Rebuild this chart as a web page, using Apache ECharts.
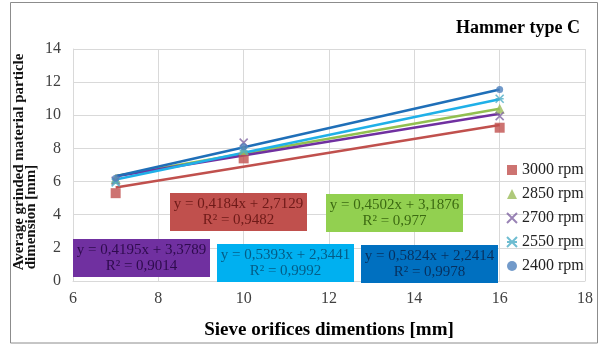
<!DOCTYPE html>
<html><head><meta charset="utf-8">
<script src="https://cdn.jsdelivr.net/npm/echarts@6/dist/echarts.min.js"></script>
<style>html,body{margin:0;padding:0;background:#fff}#c{width:600px;height:345px}</style>
</head><body><div id="c"></div>
<script>
const xValues = [7, 10, 16];
const xTrend = [7, 16];
const seriesNames = ['3000 rpm', '2850 rpm', '2700 rpm', '2550 rpm', '2400 rpm'];
const pts3000 = [5.3, 7.4, 9.25];
const pts2850 = [6.15, 7.9, 10.4];
const pts2700 = [6.05, 8.35, 9.95];
const pts2550 = [5.95, 7.85, 11.0];
const pts2400 = [6.2, 8.1, 11.55];
const trend3000 = [5.64, 9.41];
const trend2850 = [6.34, 10.39];
const trend2700 = [6.32, 10.09];
const trend2550 = [6.12, 10.97];
const trend2400 = [6.32, 11.56];
const equations = [
  'y = 0,4184x + 2,7129\nR² = 0,9482',
  'y = 0,4502x + 3,1876\nR² = 0,977',
  'y = 0,4195x + 3,3789\nR² = 0,9014',
  'y = 0,5393x + 2,3441\nR² = 0,9992',
  'y = 0,5824x + 2,2414\nR² = 0,9978'
];
const xTicks = [6, 8, 10, 12, 14, 16, 18];
const yTicks = [0, 2, 4, 6, 8, 10, 12, 14];

const pts = [pts3000, pts2850, pts2700, pts2550, pts2400];
const trends = [trend3000, trend2850, trend2700, trend2550, trend2400];
const markerColors = ['#c0504d', '#9bbb59', '#8064a2', '#4bacc6', '#4f81bd'];
const lineColors = ['#c0504d', '#92c050', '#7030a0', '#1fb0e8', '#1f6fb8'];
const boxColors = ['#c0504d', '#92d050', '#7030a0', '#00b0f0', '#0070c0'];
const textColors = ['#6e1a18', '#3c6a12', '#2e0b4d', '#045c86', '#07305e'];
const boxPos = [[170, 193], [326, 194], [73, 239], [217, 244], [361, 245]];
const symbols = [
  'rect',
  'triangle',
  'path://M0,0L10,10M10,0L0,10',
  'path://M0,0L10,10M10,0L0,10M0,5L10,5',
  'circle'
];
const symbolSizes = [10, 10, 8, 8, 7];
const serif = "'Liberation Serif','Times New Roman',serif";

const series = [];
for (let i = 0; i < 5; i++) {
  series.push({
    name: 'trend' + i, type: 'line', silent: true, symbol: 'none',
    data: xTrend.map((x, j) => [x, trends[i][j]]),
    lineStyle: { color: lineColors[i], width: 2.5 }, z: 2
  });
}
for (let i = 0; i < 5; i++) {
  const stroke = i === 2 || i === 3;
  series.push({
    name: seriesNames[i], type: 'scatter', symbol: symbols[i], symbolSize: symbolSizes[i],
    data: xValues.map((x, j) => [x, pts[i][j]]),
    itemStyle: stroke ? { color: 'rgba(0,0,0,0)', borderColor: markerColors[i], borderWidth: 1.6 }
                      : { color: markerColors[i] },
    z: 3
  });
}

const graphics = [
  { type: 'rect', shape: { x: 10.5, y: 2.5, width: 587, height: 340.5 }, style: { fill: 'none', stroke: '#8c8c8c', lineWidth: 1 }, silent: true },
  { type: 'text', x: 19, y: 162, rotation: Math.PI / 2,
    style: { text: 'Average grinded material particle', font: 'bold 15px ' + serif, fill: '#111', align: 'center', verticalAlign: 'middle' } },
  { type: 'text', x: 31, y: 217, rotation: Math.PI / 2,
    style: { text: 'dimension [mm]', font: 'bold 15px ' + serif, fill: '#111', align: 'center', verticalAlign: 'middle' } }
];
for (let i = 0; i < 5; i++) {
  graphics.push({
    type: 'rect', shape: { x: boxPos[i][0], y: boxPos[i][1], width: 137, height: 38 },
    style: { fill: boxColors[i] }, z: 10
  });
  graphics.push({
    type: 'text', x: boxPos[i][0] + 68.5, y: boxPos[i][1] + 19,
    style: { text: equations[i], font: '15px ' + serif, fill: textColors[i], align: 'center', verticalAlign: 'middle', lineHeight: 16 }, z: 11
  });
}

const chart = echarts.init(document.getElementById('c'));
chart.setOption({
  animation: false,
  backgroundColor: '#fff',
  textStyle: { fontFamily: serif },
  title: { text: 'Hammer type C', right: 15, top: 14, textStyle: { fontFamily: serif, fontWeight: 'bold', fontSize: 18, color: '#000' } },
  grid: { left: 73, right: 15, top: 49, bottom: 62, containLabel: false },
  legend: {
    data: seriesNames, orient: 'vertical', left: 506, top: 162, padding: 0, itemWidth: 10, itemHeight: 10, itemGap: 8,
    textStyle: { fontFamily: serif, fontWeight: 'normal', fontSize: 16, color: '#222', lineHeight: 16 },
    formatter: function (name) { return '{s|' + name + '}'; }
  },
  xAxis: {
    type: 'value', min: xTicks[0], max: xTicks[xTicks.length - 1], interval: 2,
    name: 'Sieve orifices dimentions [mm]', nameLocation: 'middle', nameGap: 40,
    nameTextStyle: { fontFamily: serif, fontWeight: 'bold', fontSize: 19, color: '#000' },
    axisLine: { show: true, lineStyle: { color: '#d9d9d9' } }, axisTick: { show: false },
    axisLabel: { fontFamily: serif, fontSize: 16, color: '#404040', margin: 10 },
    splitLine: { show: true, lineStyle: { color: '#d9d9d9' } }
  },
  yAxis: {
    type: 'value', min: yTicks[0], max: yTicks[yTicks.length - 1], interval: 2,
    axisLine: { show: true, lineStyle: { color: '#d9d9d9' } }, axisTick: { show: false },
    axisLabel: { fontFamily: serif, fontSize: 16, color: '#404040', margin: 12 },
    splitLine: { show: true, lineStyle: { color: '#d9d9d9' } }
  },
  series: series,
  graphic: graphics
});
chart.setOption({ legend: { textStyle: { rich: { s: { fontFamily: serif, fontSize: 16, color: '#222', lineHeight: 16 } } } } });
</script></body></html>
